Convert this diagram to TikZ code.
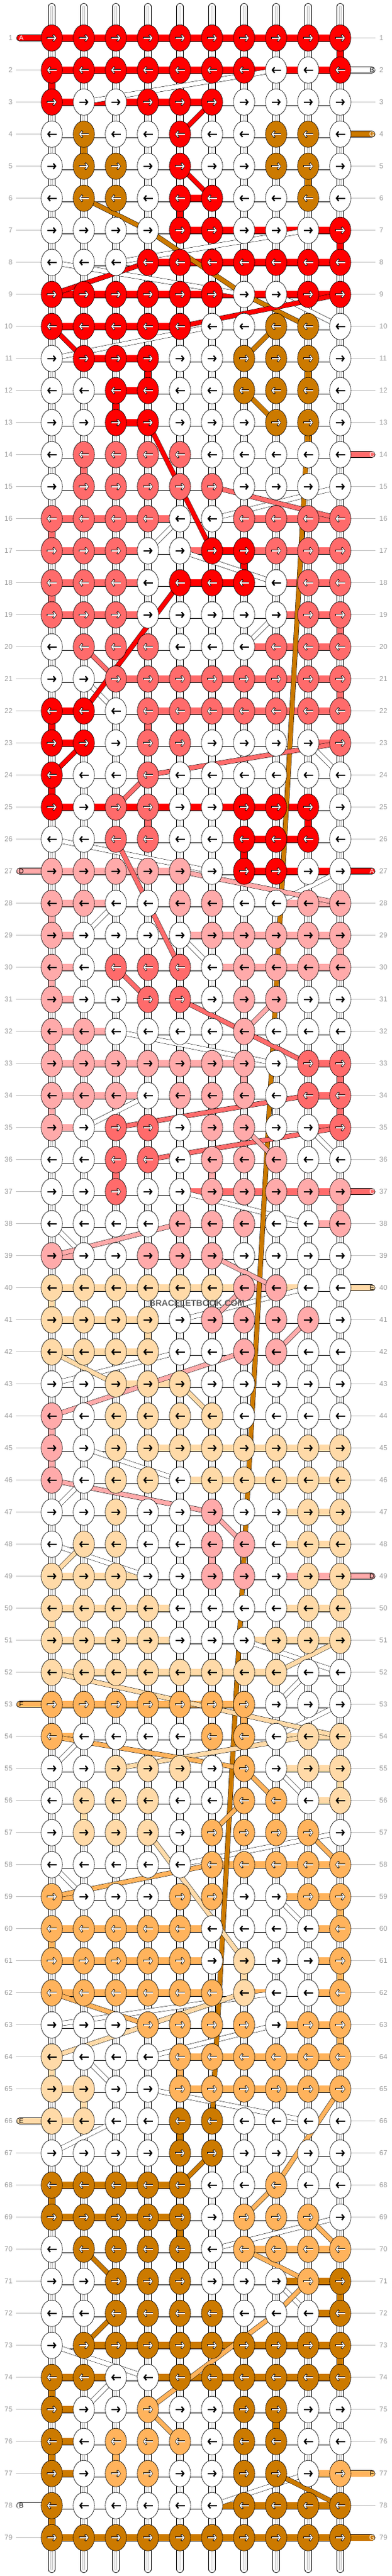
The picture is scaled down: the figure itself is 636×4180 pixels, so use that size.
\documentclass[tikz,border=0pt]{standalone}
\usepackage{fontspec}
\setmainfont{Liberation Sans}
\usetikzlibrary{shapes.geometric,arrows.meta}
\definecolor{kR}{HTML}{FF0000}
\definecolor{kC}{HTML}{FF6B6B}
\definecolor{kD}{HTML}{FFAAAA}
\definecolor{kE}{HTML}{FFDAA8}
\definecolor{kF}{HTML}{FFB35C}
\definecolor{kG}{HTML}{CC7A00}
\definecolor{kW}{HTML}{FFFFFF}
\definecolor{lblgray}{HTML}{9A9A9A}
\definecolor{linegray}{HTML}{BDBDBD}
\newif\ifwhitearrow
\tikzset{
 knot/.style={ellipse, draw=black, line width=0.6pt, minimum width=34.5pt, minimum height=43pt, inner sep=0pt},
 hbar/.style={draw=black, line width=0.6pt, double distance=11pt},
 stub/.style={draw=black, line width=0.6pt, double=white, double distance=10.4pt},
 stubin/.style={draw=gray!55, line width=0.4pt, double=white, double distance=2.4pt},
 band/.style={draw=black, line width=0.5pt, double distance=7pt},
 sbar/.style={draw=black, line width=0.6pt, double distance=9.5pt, line cap=round},
 rowline/.style={draw=linegray, line width=0.8pt},
 lbl/.style={text=lblgray, font=\fontsize{11.5}{12}\selectfont, inner sep=0pt},
 endlbl/.style={font=\fontsize{11}{12}\selectfont, inner sep=0pt},
 arrblk/.style={black, line width=2.2pt, -{Straight Barb[length=3.6pt,width=9pt]}},
 arrout/.style={black, line width=3.1pt, -{Straight Barb[length=4pt,width=10.4pt]}},
 arrin/.style={white, line width=1.7pt, -{Straight Barb[length=3.5pt,width=8.6pt]}},
}
% pass A: positions, vertical strands, horizontal bars, row lines
\newcommand\krowA[3]{%
 \pgfmathsetmacro\yy{61.7+(#1-1)*52}%
 \foreach \kc [count=\ki] in {#2}{%
   \pgfmathsetmacro\xx{84+(\ki-1)*52}%
   \coordinate (p-\ki-#1) at (\xx,\yy);
 }%
 \ifnum#1>1\relax
   \pgfmathtruncatemacro\pr{#1-1}%
   \foreach \ki in {1,...,10}{%
     \draw[stub] (p-\ki-\pr) -- (p-\ki-#1);
     \draw[stubin] (p-\ki-\pr) -- (p-\ki-#1);
   }%
 \fi
 \foreach \kb [count=\ki] in {#3}{%
   \pgfmathtruncatemacro\kj{\ki+1}%
   \draw[hbar, double=k\kb] (p-\ki-#1) -- (p-\kj-#1);
 }%
 \coordinate (lg-#1) at (26.4,\yy);
 \coordinate (rg-#1) at (609,\yy);
 \draw[rowline] (lg-#1) -- (p-1-#1);
 \draw[rowline] (p-10-#1) -- (rg-#1);
}
% pass B: knots, arrows, row numbers
\newcommand\krowB[3]{%
 \pgfmathsetmacro\yy{61.7+(#1-1)*52}%
 \ifodd#1\relax\def\ad{1}\else\def\ad{(-1)}\fi
 \foreach \kc [count=\ki] in {#2}{%
   \pgfmathsetmacro\xx{84+(\ki-1)*52}%
   \node[knot, fill=k\kc] (k-\ki-#1) at (p-\ki-#1) {};
   \pgfmathsetmacro\xs{\xx-7.5*\ad}\pgfmathsetmacro\xe{\xx+7.5*\ad}%
   \pgfmathsetmacro\xso{\xx-8.1*\ad}\pgfmathsetmacro\xeo{\xx+8.2*\ad}%
   \whitearrowtrue
   \if\kc D\whitearrowfalse\fi
   \if\kc E\whitearrowfalse\fi
   \if\kc W\whitearrowfalse\fi
   \ifwhitearrow
     \draw[arrout] (\xso,\yy) -- (\xeo,\yy);
     \draw[arrin] (\xs,\yy) -- (\xe,\yy);
   \else
     \draw[arrblk] (\xs,\yy) -- (\xe,\yy);
   \fi
 }%
 \node[lbl, anchor=east] (ll-#1) at (20.4,\yy) {#1};
 \node[lbl, anchor=west] (rl-#1) at (615.5,\yy) {#1};
}
\newcommand\lend[4]{%
 \pgfmathsetmacro\yy{61.7+(#1-1)*52}%
 \coordinate (le-#1) at (32,\yy);
 \draw[sbar, double=k#2] (le-#1) -- (p-1-#1);
 \node[endlbl, text=#4] (lt-#1) at (34.5,\yy) {#3};
}
\newcommand\rend[4]{%
 \pgfmathsetmacro\yy{61.7+(#1-1)*52}%
 \coordinate (re-#1) at (603.3,\yy);
 \draw[sbar, double=k#2] (p-10-#1) -- (re-#1);
 \node[endlbl, text=#4] (rt-#1) at (603.5,\yy) {#3};
}
\newcommand\dg[5]{%
 \draw[band, double=k#1] (p-#2-#3) -- (p-#4-#5);
}
% coloured vertical strand between row #3 and the next
\newcommand\vs[3]{%
 \pgfmathtruncatemacro\nr{#3+1}%
 \draw[stub, double=k#1] (p-#2-#3) -- (p-#2-\nr);
}
\newcommand\allrows{%
\krow{1}{R,R,R,R,R,R,R,R,R,R}{R,R,R,R,R,R,R,R,R}
\krow{2}{R,R,R,R,R,R,R,W,W,R}{R,R,R,R,R,R,R,R,R}
\krow{3}{R,W,W,R,R,R,W,W,W,W}{R,R,R,R,R,W,W,W,W}
\krow{4}{W,G,W,W,R,W,W,G,G,W}{W,W,W,W,W,W,W,W,W}
\krow{5}{W,G,G,W,R,W,W,G,G,W}{W,W,W,W,W,W,W,W,W}
\krow{6}{W,G,G,W,R,R,W,W,G,W}{W,W,W,W,R,W,W,W,W}
\krow{7}{W,W,W,W,R,R,W,W,W,R}{W,W,W,W,R,R,R,R,R}
\krow{8}{W,W,W,R,R,R,R,R,R,R}{W,W,W,R,R,R,R,R,R}
\krow{9}{R,R,R,R,R,R,W,W,R,R}{R,R,R,R,R,R,R,R,R}
\krow{10}{R,R,R,R,R,W,W,G,G,W}{R,R,R,R,W,W,W,W,W}
\krow{11}{W,R,R,R,W,W,G,G,G,W}{W,R,R,W,W,W,W,W,W}
\krow{12}{W,W,R,R,W,W,G,G,G,W}{W,W,R,W,W,W,W,W,W}
\krow{13}{W,W,R,R,W,W,W,G,G,W}{W,W,R,W,W,W,W,W,W}
\krow{14}{W,C,C,C,C,W,W,W,W,W}{W,W,W,W,W,W,W,W,W}
\krow{15}{W,C,C,C,C,C,W,W,W,W}{W,W,W,W,W,W,W,W,W}
\krow{16}{C,C,C,C,W,W,C,C,C,C}{C,C,C,C,W,W,C,C,C}
\krow{17}{C,C,C,W,W,R,R,C,C,C}{C,C,C,W,C,R,C,C,C}
\krow{18}{C,C,C,W,R,R,R,W,C,C}{C,C,C,W,R,R,W,C,C}
\krow{19}{C,C,C,W,W,W,W,W,C,C}{C,C,C,W,W,W,W,C,C}
\krow{20}{W,C,C,C,W,W,W,C,C,C}{W,W,W,W,W,W,C,C,C}
\krow{21}{W,W,C,C,C,C,C,C,C,C}{W,W,C,C,C,C,C,C,C}
\krow{22}{R,R,W,C,C,C,C,C,C,C}{R,W,W,C,C,C,C,C,C}
\krow{23}{R,R,W,C,C,W,W,W,W,C}{R,W,W,W,W,W,W,W,C}
\krow{24}{R,W,W,C,W,W,W,W,W,W}{W,W,W,W,W,W,W,W,W}
\krow{25}{R,W,C,C,W,W,R,R,R,W}{R,R,R,R,R,R,R,R,W}
\krow{26}{W,W,C,C,W,W,R,R,R,W}{W,W,W,W,W,W,R,R,W}
\krow{27}{D,D,D,D,D,W,R,R,W,W}{D,D,D,D,W,W,R,R,R}
\krow{28}{D,D,W,W,D,D,W,W,D,D}{D,D,W,W,W,W,W,D,D}
\krow{29}{D,W,W,W,W,D,D,D,D,D}{D,W,W,W,D,D,D,D,D}
\krow{30}{D,W,C,C,C,W,D,D,D,D}{D,W,W,W,W,D,D,D,D}
\krow{31}{D,W,W,C,C,W,D,D,W,W}{D,W,W,W,W,W,W,W,W}
\krow{32}{D,D,W,W,W,W,D,W,W,W}{D,D,W,W,W,W,W,W,W}
\krow{33}{D,D,D,D,D,D,D,W,C,C}{D,D,D,D,D,D,W,W,C}
\krow{34}{D,D,D,W,D,D,D,W,C,C}{D,D,D,W,W,W,W,W,C}
\krow{35}{D,W,C,C,W,D,D,W,W,C}{D,W,W,W,W,W,W,W,C}
\krow{36}{W,W,C,C,W,D,D,D,W,W}{W,W,W,W,W,W,W,W,W}
\krow{37}{W,W,C,W,W,D,D,D,D,D}{W,W,W,W,C,C,C,C,C}
\krow{38}{W,W,W,W,D,D,D,W,W,D}{W,W,W,W,W,W,W,W,D}
\krow{39}{D,W,W,D,D,D,W,W,W,W}{D,W,W,W,W,W,W,W,W}
\krow{40}{E,E,E,E,E,E,D,D,W,W}{E,E,E,E,E,E,D,E,W}
\krow{41}{E,E,E,E,W,D,D,D,D,W}{E,E,E,W,W,W,W,W,W}
\krow{42}{E,E,E,E,W,W,D,D,W,W}{E,E,E,W,W,W,W,W,W}
\krow{43}{W,W,E,E,E,W,W,W,W,W}{W,W,E,E,W,W,W,W,W}
\krow{44}{D,W,E,E,E,E,W,W,W,W}{W,W,W,W,W,W,W,W,W}
\krow{45}{D,W,E,E,E,E,E,E,E,E}{W,W,W,E,E,E,E,E,E}
\krow{46}{D,W,E,E,W,E,E,E,E,E}{W,W,W,W,E,E,E,E,E}
\krow{47}{W,W,E,W,W,D,W,W,E,E}{W,W,W,W,W,W,W,E,E}
\krow{48}{W,E,E,W,W,D,D,W,E,E}{W,W,W,W,W,W,W,E,E}
\krow{49}{E,E,E,W,W,D,D,W,E,E}{E,E,E,W,W,W,W,D,D}
\krow{50}{E,E,E,E,W,W,W,W,E,E}{E,E,E,E,W,W,W,E,E}
\krow{51}{E,E,E,E,W,W,W,E,E,E}{E,E,E,E,W,W,E,E,E}
\krow{52}{E,E,E,E,E,E,E,E,W,W}{E,E,E,E,E,E,E,W,W}
\krow{53}{F,F,F,F,F,F,F,W,W,W}{F,F,F,F,F,F,W,W,W}
\krow{54}{F,W,W,W,W,F,F,W,E,E}{F,W,W,W,W,W,W,E,E}
\krow{55}{W,W,E,E,E,W,F,W,E,E}{W,W,W,W,W,W,W,E,E}
\krow{56}{W,E,E,E,W,W,F,F,W,E}{W,W,W,W,W,W,W,W,E}
\krow{57}{W,E,E,E,W,F,F,F,F,W}{W,W,W,W,W,W,W,W,W}
\krow{58}{W,W,W,W,W,F,F,F,F,F}{W,W,W,W,W,F,F,F,F}
\krow{59}{F,W,W,W,F,F,W,W,F,F}{F,W,W,W,W,W,W,F,F}
\krow{60}{F,F,F,F,F,W,W,W,W,F}{F,F,F,F,F,W,W,W,F}
\krow{61}{F,F,F,F,F,W,E,W,W,F}{F,F,F,F,F,W,W,W,F}
\krow{62}{F,F,F,F,F,F,E,W,W,F}{F,F,F,F,F,W,F,W,F}
\krow{63}{W,W,W,F,F,F,F,W,F,F}{W,W,W,W,W,W,W,F,F}
\krow{64}{E,W,W,W,F,F,F,F,F,F}{W,W,W,W,F,F,F,F,F}
\krow{65}{E,E,W,W,F,F,F,F,F,F}{E,W,W,W,F,F,F,F,F}
\krow{66}{E,E,W,W,G,G,W,W,W,W}{E,W,W,W,W,W,W,W,W}
\krow{67}{W,W,W,W,G,G,W,W,W,W}{W,W,W,W,W,W,W,W,W}
\krow{68}{G,G,G,G,G,W,W,F,W,W}{G,G,G,G,W,W,W,W,W}
\krow{69}{G,G,G,G,G,W,F,F,F,W}{G,G,G,G,W,W,W,W,W}
\krow{70}{W,G,G,G,G,W,F,F,F,F}{W,W,W,W,W,W,F,F,F}
\krow{71}{W,W,G,G,G,W,W,W,F,G}{W,W,W,W,W,W,W,G,G}
\krow{72}{W,W,G,G,G,G,W,W,W,G}{W,W,W,W,W,W,W,W,G}
\krow{73}{W,G,G,G,G,G,G,G,G,G}{W,G,G,G,G,G,G,G,G}
\krow{74}{G,G,W,W,G,G,G,G,G,G}{G,G,W,G,G,G,G,G,G}
\krow{75}{G,W,W,F,W,W,G,G,W,W}{G,W,W,W,W,W,W,W,W}
\krow{76}{G,W,F,F,F,W,G,G,W,W}{G,W,W,W,W,W,W,W,W}
\krow{77}{G,W,F,F,W,W,G,G,W,F}{G,W,W,W,W,W,W,W,F}
\krow{78}{G,W,W,W,W,W,G,G,G,G}{W,W,W,W,W,G,G,G,G}
\krow{79}{G,G,G,G,G,G,G,G,G,G}{G,G,G,G,G,G,G,G,G}
}
\begin{document}
\begin{tikzpicture}[x=1pt,y=-1pt]
\useasboundingbox (0,0) rectangle (636,4180);
\fill[white] (0,0) rectangle (636,4180);
\let\krow\krowA
\allrows
% top and bottom strand ends
\foreach \ki in {1,...,10}{%
  \pgfmathsetmacro\xx{84+(\ki-1)*52}%
  \coordinate (top-\ki) at (\xx,11);
  \coordinate (bot-\ki) at (\xx,4169);
  \draw[stub, line cap=round] (top-\ki) -- (p-\ki-1);
  \draw[stubin, line cap=round] (top-\ki) -- (p-\ki-1);
  \draw[stub, line cap=round] (p-\ki-79) -- (bot-\ki);
  \draw[stubin, line cap=round] (p-\ki-79) -- (bot-\ki);
}
% coloured vertical strands
\vs{R}{10}{1} \vs{R}{1}{2} \vs{G}{2}{4} \vs{G}{9}{5} \vs{R}{5}{6} \vs{R}{10}{7}
\vs{R}{4}{11} \vs{G}{9}{11} \vs{R}{3}{12} \vs{G}{9}{13} \vs{C}{2}{14} \vs{C}{1}{16}
\vs{R}{7}{17} \vs{C}{1}{18} \vs{C}{10}{19} \vs{C}{10}{21} \vs{R}{1}{22} \vs{C}{4}{22}
\vs{R}{1}{24} \vs{C}{4}{25} \vs{R}{9}{25} \vs{R}{7}{26} \vs{D}{1}{28} \vs{D}{10}{29}
\vs{D}{1}{30} \vs{D}{1}{32} \vs{D}{7}{33} \vs{C}{10}{33} \vs{D}{1}{34} \vs{C}{10}{34}
\vs{C}{3}{36} \vs{D}{6}{36} \vs{D}{10}{37} \vs{E}{1}{40} \vs{E}{4}{41} \vs{D}{1}{44}
\vs{D}{1}{45} \vs{D}{6}{48} \vs{E}{10}{49} \vs{E}{1}{50} \vs{F}{7}{53} \vs{E}{10}{55}
\vs{E}{2}{56} \vs{F}{10}{59} \vs{F}{1}{60} \vs{E}{7}{61} \vs{F}{10}{61} \vs{F}{10}{63}
\vs{E}{1}{64} \vs{F}{5}{64} \vs{E}{2}{65} \vs{G}{5}{66} \vs{G}{1}{68} \vs{G}{5}{69}
\vs{G}{10}{71} \vs{G}{10}{73} \vs{G}{1}{74} \vs{G}{8}{75} \vs{G}{1}{76} \vs{F}{3}{76}
\vs{G}{1}{78}
% string ends
\lend{1}{R}{A}{white}
\lend{27}{D}{D}{black}
\lend{53}{F}{F}{black}
\lend{66}{E}{E}{black}
\lend{78}{W}{B}{black}
\rend{2}{W}{B}{black}
\rend{4}{G}{G}{white}
\rend{14}{C}{C}{white}
\rend{27}{R}{A}{white}
\rend{37}{C}{C}{white}
\rend{40}{E}{E}{black}
\rend{49}{D}{D}{black}
\rend{77}{F}{F}{black}
\rend{79}{G}{G}{white}
% white threads crossing
\dg{W}{8}{2}{2}{3}
\dg{W}{9}{7}{3}{8}
\dg{W}{1}{8}{7}{9}
\dg{W}{8}{9}{10}{10}
\dg{W}{6}{10}{1}{11}
\dg{W}{6}{16}{10}{15}
\dg{W}{4}{17}{5}{16}
\dg{W}{5}{17}{8}{18}
\dg{W}{7}{20}{8}{19}
\dg{W}{2}{21}{3}{22}
\dg{W}{9}{23}{10}{24}
\dg{W}{1}{26}{6}{27}
\dg{W}{8}{28}{10}{27}
\dg{W}{2}{29}{3}{28}
\dg{W}{5}{29}{6}{30}
\dg{W}{3}{32}{8}{33}
\dg{W}{2}{35}{4}{34}
\dg{W}{9}{35}{10}{36}
\dg{W}{5}{37}{9}{38}
\dg{W}{1}{38}{2}{39}
\dg{W}{5}{41}{9}{40}
\dg{W}{1}{43}{5}{42}
\dg{W}{2}{45}{5}{46}
\dg{W}{1}{47}{2}{46}
\dg{W}{1}{48}{4}{49}
\dg{W}{7}{51}{10}{52}
\dg{W}{8}{53}{9}{52}
\dg{W}{8}{54}{10}{53}
\dg{W}{1}{55}{2}{54}
\dg{W}{8}{55}{9}{56}
\dg{W}{5}{58}{10}{57}
\dg{W}{1}{58}{2}{59}
\dg{W}{8}{59}{9}{60}
\dg{W}{1}{63}{8}{62}
\dg{W}{4}{64}{8}{63}
\dg{W}{2}{64}{3}{65}
\dg{W}{4}{65}{9}{66}
\dg{W}{1}{67}{3}{66}
\dg{W}{6}{70}{10}{69}
\dg{W}{8}{71}{9}{72}
\dg{W}{1}{73}{4}{74}
\dg{W}{2}{75}{3}{74}
\dg{W}{6}{78}{9}{77}
% coloured threads crossing
\dg{G}{2}{6}{4}{7}
\dg{G}{4}{7}{7}{9}
\dg{G}{7}{9}{9}{10}
\dg{G}{8}{10}{7}{11}
\dg{G}{7}{12}{8}{13}
\dg{G}{9}{13}{6}{66}
\dg{G}{5}{68}{6}{67}
\dg{G}{2}{70}{3}{71}
\dg{G}{3}{72}{2}{73}
\dg{G}{8}{77}{10}{78}
\dg{R}{6}{3}{5}{4}
\dg{R}{5}{5}{6}{6}
\dg{R}{1}{9}{4}{8}
\dg{R}{5}{10}{10}{9}
\dg{R}{1}{10}{2}{11}
\dg{R}{4}{13}{6}{17}
\dg{R}{5}{18}{2}{22}
\dg{R}{2}{23}{1}{24}
\dg{C}{6}{15}{10}{16}
\dg{C}{2}{20}{3}{21}
\dg{C}{4}{24}{10}{23}
\dg{C}{4}{24}{3}{25}
\dg{C}{3}{26}{5}{30}
\dg{C}{3}{30}{4}{31}
\dg{C}{5}{31}{9}{33}
\dg{C}{3}{35}{9}{34}
\dg{C}{4}{36}{10}{35}
\dg{D}{5}{27}{10}{28}
\dg{D}{7}{32}{8}{31}
\dg{D}{7}{35}{8}{36}
\dg{D}{1}{39}{5}{38}
\dg{D}{6}{39}{8}{40}
\dg{D}{6}{41}{7}{40}
\dg{D}{8}{42}{9}{41}
\dg{D}{1}{44}{7}{42}
\dg{D}{1}{46}{6}{47}
\dg{D}{6}{47}{7}{48}
\dg{E}{1}{42}{3}{43}
\dg{E}{5}{43}{6}{44}
\dg{E}{1}{49}{2}{48}
\dg{E}{8}{52}{10}{51}
\dg{E}{1}{52}{10}{54}
\dg{E}{3}{55}{9}{54}
\dg{E}{4}{57}{7}{61}
\dg{E}{1}{64}{7}{62}
\dg{F}{1}{54}{7}{55}
\dg{F}{7}{55}{8}{56}
\dg{F}{6}{57}{7}{56}
\dg{F}{1}{59}{6}{58}
\dg{F}{9}{57}{10}{58}
\dg{F}{1}{62}{4}{63}
\dg{F}{10}{65}{8}{68}
\dg{F}{7}{69}{8}{68}
\dg{F}{9}{69}{10}{70}
\dg{F}{7}{70}{9}{71}
\dg{F}{9}{71}{8}{72}
\dg{F}{8}{72}{4}{75}
\dg{F}{4}{75}{5}{76}
\let\krow\krowB
\allrows
% watermark
\node[font=\bfseries\fontsize{14}{14}\selectfont, text=black!62, inner sep=0pt] (wm) at (319.6,2115) {BRACELETBOOK.COM};
\end{tikzpicture}
\end{document}
